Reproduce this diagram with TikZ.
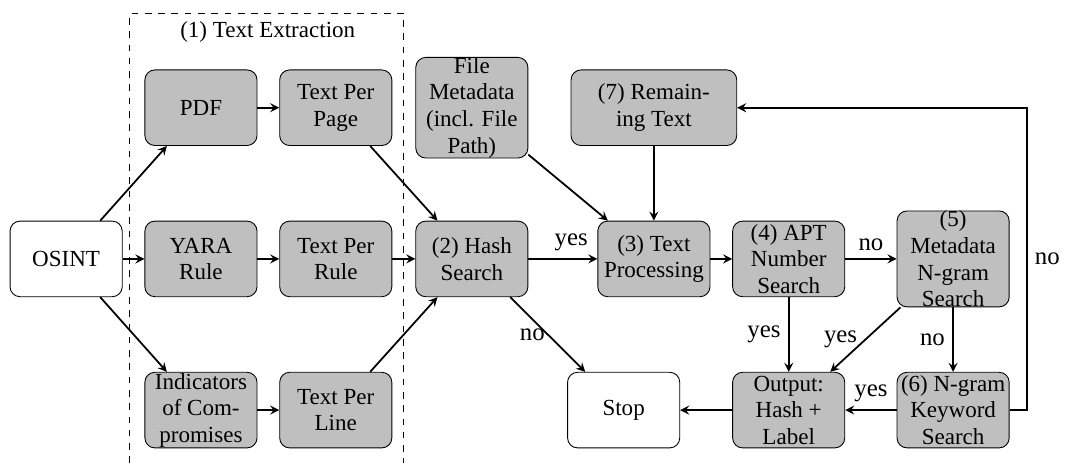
\documentclass[tikz,border=0pt]{standalone}
\usepackage{fontspec}
\setmainfont{Liberation Serif}
\begin{document}
\begin{tikzpicture}[font=\fontsize{10.4}{12}\selectfont,
    stage/.style={draw, rounded corners=4.5pt, fill=black!25, align=center,
      minimum width=1.78cm, minimum height=1.2cm, inner xsep=1pt, inner ysep=0pt},
    term/.style={stage, fill=white},
    flow/.style={->, >=stealth, thick},
    answer/.style={font=\fontsize{11.2}{13}\selectfont}]
  \useasboundingbox (0,0) rectangle (17.16,7.35);
  % text extraction frame
  \draw [dashed] (2.06,0) |- (6.41,7.14) -- (6.41,0);
  \node (extract) at (4.25,6.84) {(1) Text Extraction};
  % first columns
  \node [term] (osint) at (1.05,3.24) {OSINT};
  \node [stage] (pdf) at (3.19,5.64) {PDF};
  \node [stage] (page) at (5.33,5.64) {Text Per\\Page};
  \node [stage] (yara) at (3.19,3.24) {YARA\\Rule};
  \node [stage] (rule) at (5.33,3.24) {Text Per\\Rule};
  \node [stage] (ioc) at (3.19,0.84) {Indicators\\of Com-\\promises};
  \node [stage] (line) at (5.33,0.84) {Text Per\\Line};
  % search stages
  \node [stage] (meta) at (7.49,5.64) {File\\Metadata\\(incl. File\\Path)};
  \node [stage] (hash) at (7.49,3.24) {(2) Hash\\Search};
  \node [stage, minimum width=2.63cm] (remain) at (10.38,5.64) {(7) Remain-\\ing Text};
  \node [stage] (proc) at (10.38,3.24) {(3) Text\\Processing};
  \node [stage] (apt) at (12.52,3.24) {(4) APT\\Number\\Search};
  \node [stage] (ngram) at (15.13,3.24) {(5)\\Metadata\\N-gram\\Search};
  \node [stage] (keyword) at (15.13,0.84) {(6) N-gram\\Keyword\\Search};
  \node [stage] (output) at (12.52,0.84) {Output:\\Hash +\\Label};
  \node [term] (stop) at (9.90,0.84) {Stop};
  % connectors
  \draw [flow] (osint) -- (pdf);
  \draw [flow] (osint) -- (yara);
  \draw [flow] (osint) -- (ioc);
  \draw [flow] (pdf) -- (page);
  \draw [flow] (yara) -- (rule);
  \draw [flow] (ioc) -- (line);
  \draw [flow] (page) -- (hash);
  \draw [flow] (rule) -- (hash);
  \draw [flow] (line) -- (hash);
  \draw [flow] (hash) -- node [answer, pos=0.62, above] {yes} (proc);
  \draw [flow] (hash) -- node [answer, left, inner sep=1pt] {no} (stop);
  \draw [flow] (meta) -- (proc);
  \draw [flow] (remain) -- (proc);
  \draw [flow] (proc) -- (apt);
  \draw [flow] (apt) -- node [answer, above] {no} (ngram);
  \draw [flow] (apt) -- node [answer, left] {yes} (output);
  \draw [flow] (ngram) -- node [answer, left] {yes} (output);
  \draw [flow] (ngram) -- node [answer, left] {no} (keyword);
  \draw [flow] (keyword) -- node [answer, above] {yes} (output);
  \draw [flow] (output) -- (stop);
  \draw [flow] (keyword.east) -- ++(0.27,0) |- node [answer, pos=0.25, right] {no} (remain.east);
\end{tikzpicture}
\end{document}
